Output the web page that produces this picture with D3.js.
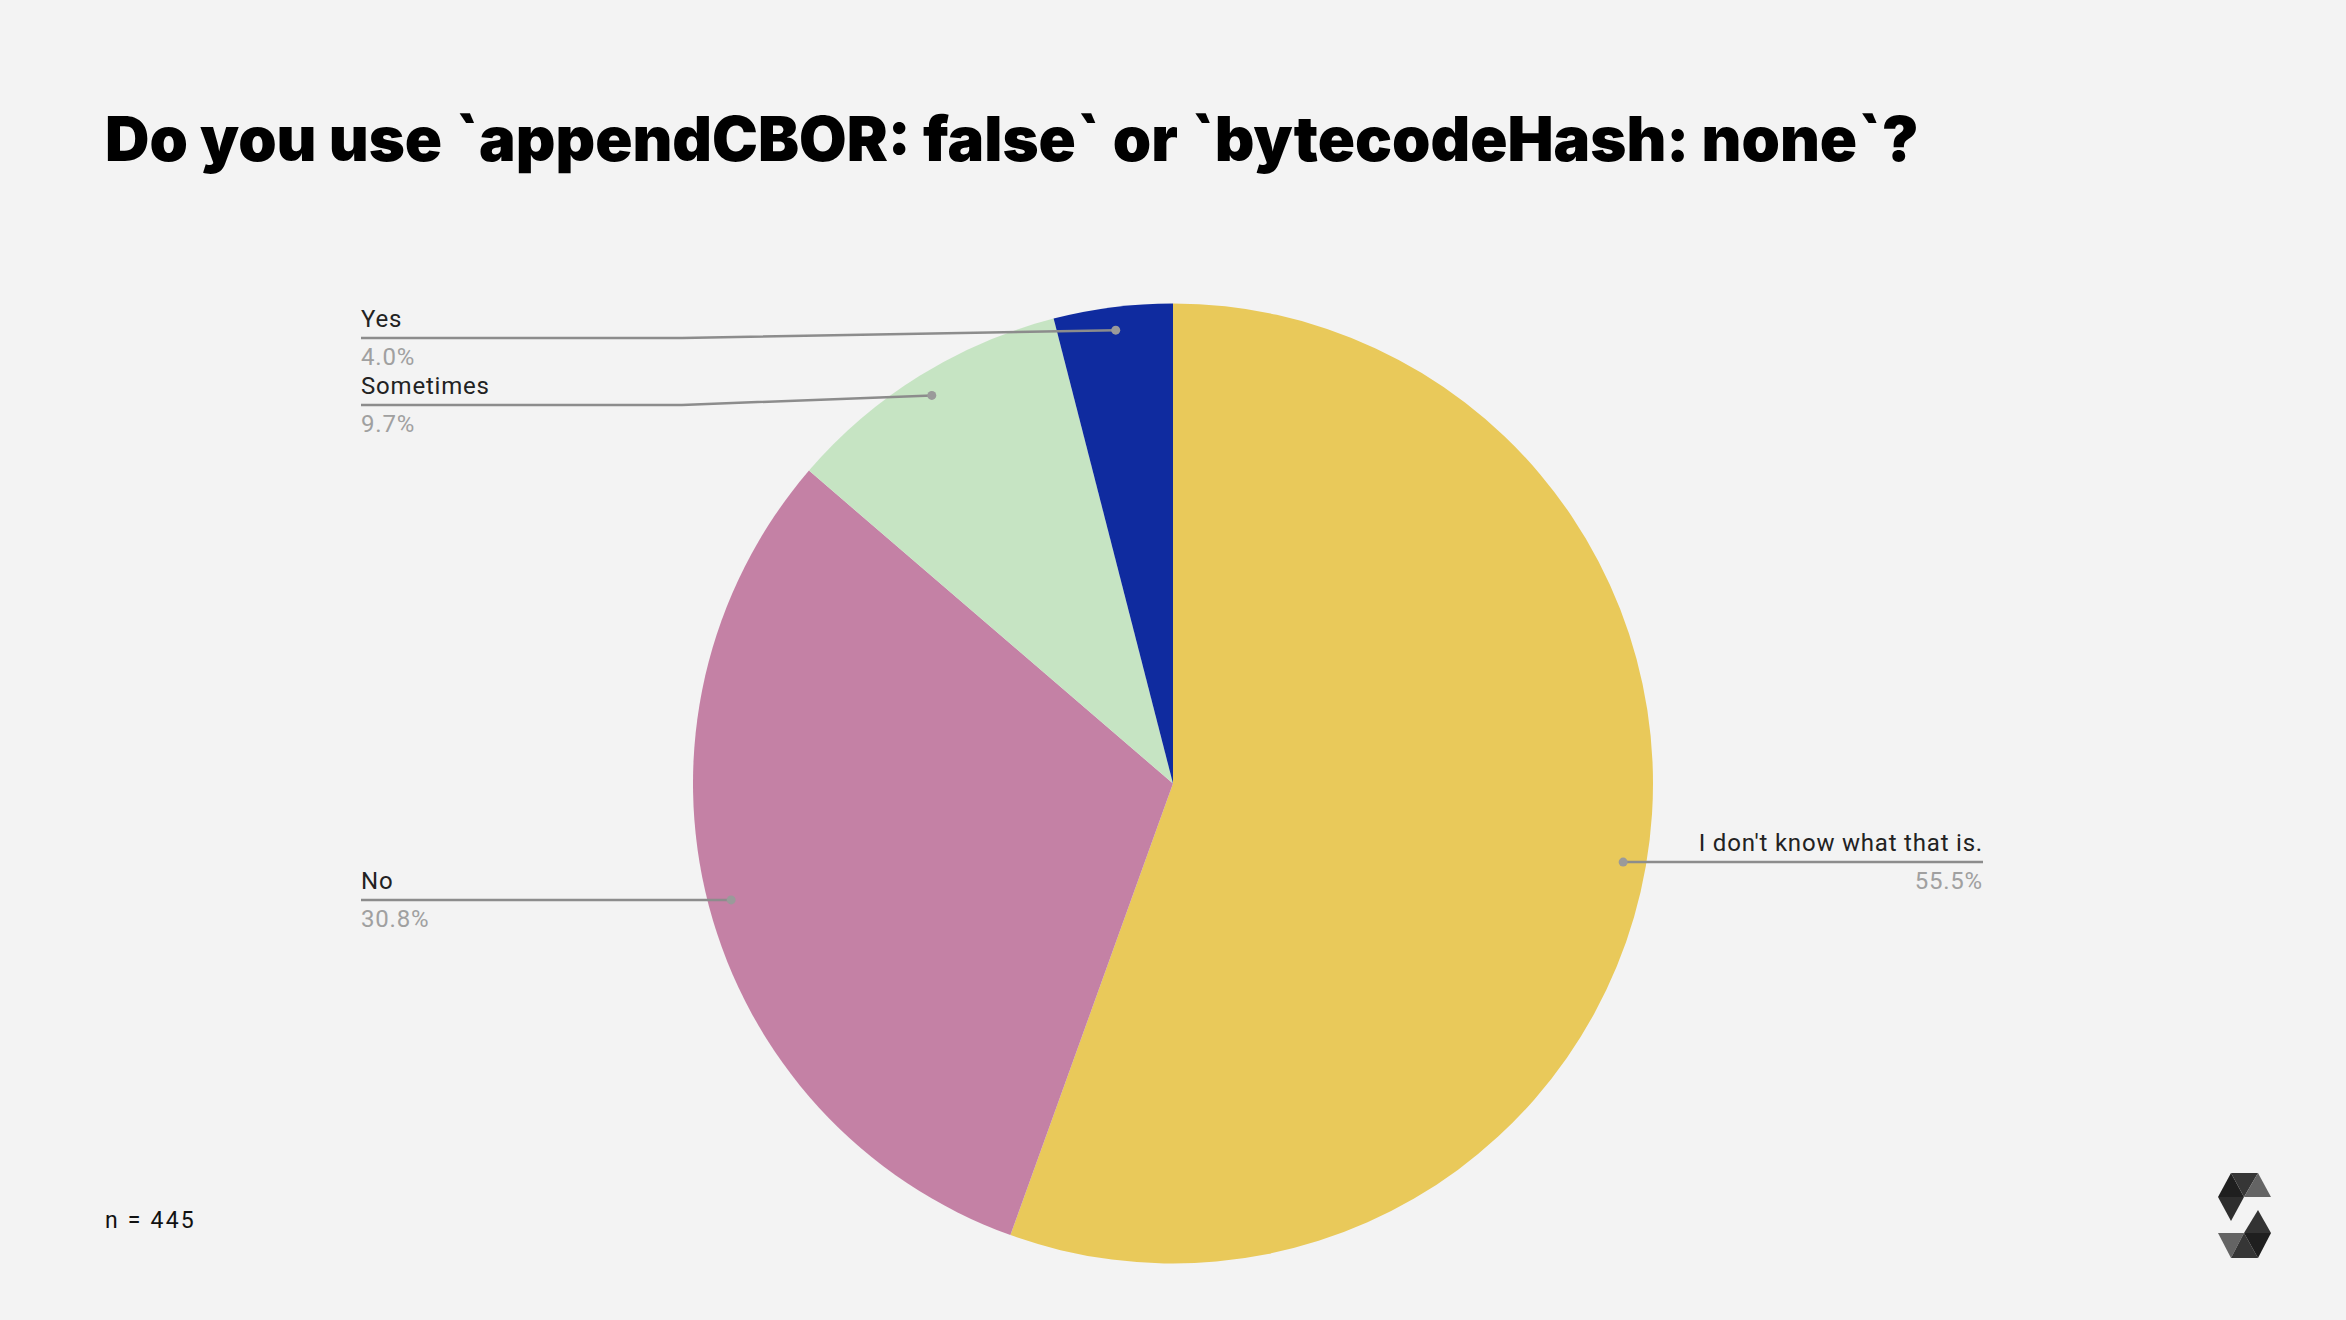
<!DOCTYPE html>
<html><head><meta charset="utf-8">
<script src="https://cdn.jsdelivr.net/npm/d3@7"></script>
<style>html,body{margin:0;padding:0;background:#f3f3f3;}svg{display:block;}</style>
</head><body>
<script>
const categories = ["I don't know what that is.", "No", "Sometimes", "Yes"];
const values = [55.5, 30.8, 9.7, 4.0];
const colors = ["#E9C95A", "#C481A5", "#C6E4C3", "#0F2B9F"];
const titleText = "Do you use `appendCBOR: false` or `bytecodeHash: none`?";
const noteText = "n = 445";

const W = 2346, H = 1320;
const cx = 1173, cy = 783.5, R = 480;
const svg = d3.select("body").append("svg").attr("width", W).attr("height", H);
svg.append("rect").attr("width", W).attr("height", H).attr("fill", "#f3f3f3");

const title = svg.append("text").attr("x", 105).attr("y", 161)
  .attr("font-family", "Inter, 'DejaVu Sans', sans-serif").attr("font-weight", 900)
  .attr("font-size", 57).attr("fill", "#000").text(titleText);
const tw = title.node().getComputedTextLength();
title.attr("font-size", 57 * 1814 / tw);

const pie = d3.pie().sort(null).value(d => d)(values);
const arc = d3.arc().innerRadius(0).outerRadius(R);
const g = svg.append("g").attr("transform", `translate(${cx},${cy})`);
g.selectAll("path").data(pie).join("path").attr("d", arc).attr("fill", (d, i) => colors[i]);

const dotArc = d3.arc().innerRadius(R * 0.952).outerRadius(R * 0.952);
// label layout (Google-chart style side labels)
const leftX = 361, rightX = 1983, elbowX = 682;
const lineYOverride = {2: 405, 3: 338};
const lab = svg.append("g").attr("font-family", "Roboto, Arial, sans-serif")
  .attr("font-size", 24).attr("letter-spacing", 0.8);
pie.forEach((d, i) => {
  const [px, py] = dotArc.centroid(d);
  const dx = cx + px, dy = cy + py;
  const right = dx > cx;
  const ly = lineYOverride[i] !== undefined ? lineYOverride[i] : dy;
  let pts;
  if (right) pts = [[dx, dy], [rightX, ly]];
  else pts = [[leftX, ly], [elbowX, ly], [dx, dy]];
  lab.append("path").attr("d", d3.line()(pts)).attr("fill", "none")
    .attr("stroke", "#8c8c8c").attr("stroke-width", 2.5);
  lab.append("circle").attr("cx", dx).attr("cy", dy).attr("r", 4.5).attr("fill", "#9a9a9a");
  const tx = right ? rightX : leftX;
  const anchor = right ? "end" : "start";
  lab.append("text").attr("x", tx).attr("y", ly - 11).attr("text-anchor", anchor)
    .attr("fill", "#222").text(categories[i]);
  lab.append("text").attr("x", tx).attr("y", ly + 27).attr("text-anchor", anchor)
    .attr("fill", "#a0a0a0").text(d3.format(".1f")(values[i]) + "%");
});

svg.append("text").attr("x", 105).attr("y", 1228).attr("font-family", "Roboto, Arial, sans-serif")
  .attr("font-size", 23).attr("letter-spacing", 2.2).attr("fill", "#111").text(noteText);

// Solidity logo
const logo = svg.append("g");
const tris = [
  [[2231,1173],[2244,1197],[2218,1197],"#1f1f1f"],
  [[2231,1173],[2258,1173],[2244,1197],"#363636"],
  [[2258,1173],[2271,1197],[2244,1197],"#646464"],
  [[2218,1197],[2244,1197],[2231,1221],"#2e2e2e"],
  [[2258,1210],[2271,1233],[2244,1233],"#333333"],
  [[2218,1233],[2244,1233],[2231,1258],"#646464"],
  [[2244,1233],[2231,1258],[2258,1258],"#363636"],
  [[2244,1233],[2271,1233],[2258,1258],"#1f1f1f"]
];
tris.forEach(t => logo.append("path").attr("d", d3.line()(t.slice(0,3)) + "Z").attr("fill", t[3]));
</script>
</body></html>
